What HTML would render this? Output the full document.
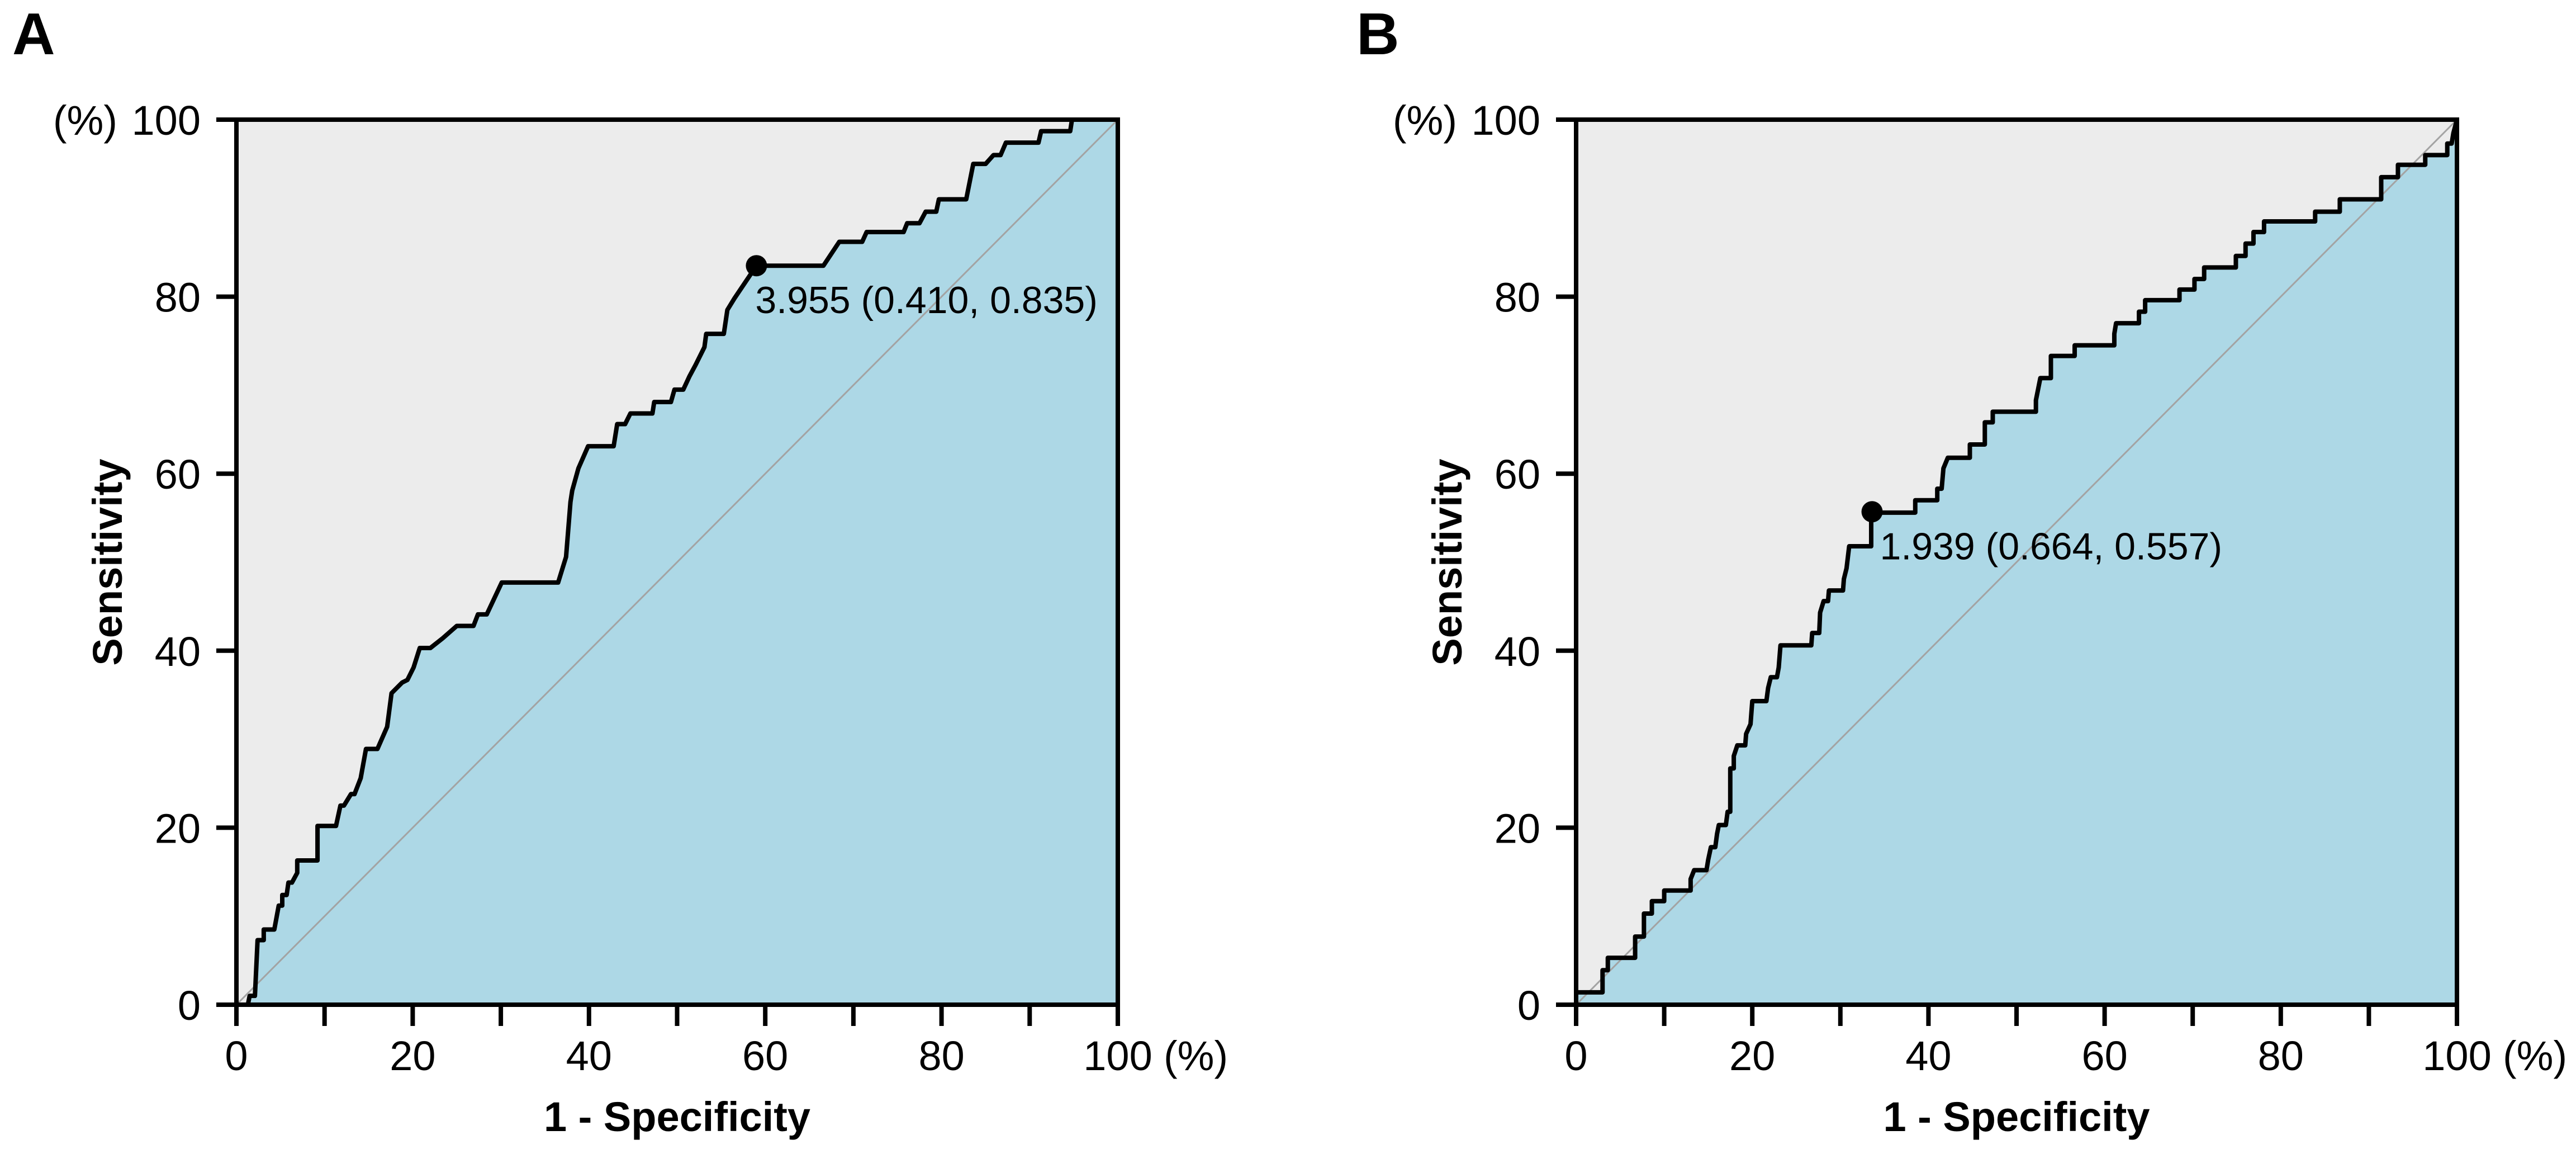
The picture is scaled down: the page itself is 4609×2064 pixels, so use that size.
<!DOCTYPE html>
<html><head><meta charset="utf-8"><style>
html,body{margin:0;padding:0;background:#fff;}
svg{display:block;font-family:"Liberation Sans",Arial,sans-serif;}
</style></head><body>
<svg id="fig" width="4609" height="2064" viewBox="0 0 4609 2064" xmlns="http://www.w3.org/2000/svg"></svg>
<script>
// Panel A ROC curve: false positive rate (%) and sensitivity (%)
const aFpr = [1.3,1.5,2.1,2.4,3.1,3.1,4.3,4.8,5.2,5.2,5.7,5.9,6.3,6.9,6.9,9.2,9.2,11.3,11.8,12.2,13.0,13.4,14.1,14.7,16.0,17.1,17.6,18.8,19.4,20.1,20.8,22.0,23.4,25.0,26.9,27.4,28.4,30.1,36.5,37.4,37.9,38.1,38.8,39.9,42.8,43.2,44.1,44.7,47.2,47.4,49.3,49.7,50.7,51.4,52.1,53.1,53.3,55.3,55.7,56.5,59.0,66.6,68.4,71.0,71.5,75.7,76.1,77.5,78.2,79.4,79.7,82.8,83.6,85.0,85.9,86.7,87.3,91.0,91.3,94.6,94.8,100];
const aTpr = [0,1.0,1.0,7.3,7.3,8.5,8.5,11.2,11.2,12.4,12.4,13.8,13.8,14.9,16.3,16.3,20.2,20.2,22.5,22.5,23.8,23.8,25.6,28.9,28.9,31.4,35.2,36.4,36.7,38.1,40.3,40.3,41.4,42.8,42.8,44.1,44.1,47.7,47.7,50.6,56.8,58.1,60.6,63.1,63.1,65.6,65.6,66.8,66.8,68.1,68.1,69.5,69.5,71.0,72.3,74.3,75.8,75.8,78.5,79.8,83.5,83.5,86.2,86.2,87.3,87.3,88.3,88.3,89.6,89.6,91.0,91.0,95.0,95.0,96.0,96.0,97.4,97.4,98.7,98.7,100,100];
const aCut = [59.0, 83.5];
const aLabel = "3.955 (0.410, 0.835)";
// Panel B ROC curve
const bFpr = [0,3.0,3.0,3.6,3.6,6.7,6.7,7.7,7.7,8.6,8.6,10.0,10.0,13.0,13.0,13.4,14.8,15.0,15.3,15.8,16.0,16.2,17.0,17.2,17.5,17.5,17.9,17.9,18.3,19.2,19.3,19.8,20.0,21.6,21.8,22.1,22.8,23.0,23.2,26.7,26.8,27.6,27.7,28.1,28.6,28.7,30.3,30.4,30.7,31.0,33.5,33.5,38.5,38.5,41.0,41.0,41.5,41.7,42.2,44.7,44.7,46.4,46.4,47.3,47.3,52.2,52.2,52.7,53.9,53.9,56.6,56.6,61.1,61.1,61.3,63.9,63.9,64.6,64.6,68.5,68.5,70.2,70.2,71.3,71.3,74.9,74.9,76.0,76.0,76.9,76.9,78.1,78.1,83.9,83.9,86.7,86.7,91.4,91.4,93.3,93.3,96.4,96.4,98.9,98.9,99.4,99.6,100];
const bTpr = [1.4,1.4,3.9,3.9,5.3,5.3,7.7,7.7,10.3,10.3,11.7,11.7,12.9,12.9,14.2,15.2,15.2,16.4,17.8,17.8,19.3,20.3,20.3,21.8,21.8,26.7,26.7,28.1,29.3,29.3,30.6,31.7,34.3,34.3,35.8,37.0,37.0,38.1,40.6,40.6,42.0,42.0,44.3,45.6,45.6,46.8,46.8,48.1,49.3,51.8,51.8,55.6,55.6,57.0,57.0,58.3,58.3,60.6,61.8,61.8,63.3,63.3,65.8,65.8,67.0,67.0,68.3,70.8,70.8,73.3,73.3,74.5,74.5,75.8,77.0,77.0,78.3,78.3,79.6,79.6,80.8,80.8,82.0,82.0,83.3,83.3,84.6,84.6,86.0,86.0,87.3,87.3,88.5,88.5,89.6,89.6,91.0,91.0,93.5,93.5,94.9,94.9,96.0,96.0,97.3,97.3,98.5,100];
const bCut = [33.6, 55.7];
const bLabel = "1.939 (0.664, 0.557)";
const xTicks = [0,10,20,30,40,50,60,70,80,90,100];
const xTickLabels = ["0","","20","","40","","60","","80","","100"];
const yTicks = [0,20,40,60,80,100];

const NS = "http://www.w3.org/2000/svg";
const svg = document.getElementById('fig');
function mk(tag, attrs, parent){
  const e = document.createElementNS(NS, tag);
  for (const k in attrs) e.setAttribute(k, attrs[k]);
  (parent||svg).appendChild(e);
  return e;
}
function panel(id, x0, x1, fpr, tpr, cut, label, letter, letterX, lblDx, lblDy){
  const y0 = 1797, y1 = 214;
  const sx = v => x0 + (x1 - x0) * v / 100;
  const sy = v => y0 - (y0 - y1) * v / 100;
  const g = mk('g', {});
  
  
  const bg = mk('rect', {x:x0, y:y1, width:x1-x0, height:y0-y1, fill:'#ececec'}, g);
  
  
  let pts = fpr.map((f,i)=>sx(f)+','+sy(tpr[i]));
  const area = mk('polygon', {points: pts.join(' ') + ' ' + sx(100)+','+sy(0) + ' ' + sx(fpr[0])+','+sy(0), fill:'#add8e6'}, g);
  
  
  const diag = mk('line', {x1:sx(0), y1:sy(0), x2:sx(100), y2:sy(100), stroke:'#a3a3a3', 'stroke-width':3}, g);
  
  
  const curve = mk('polyline', {points: pts.join(' '), fill:'none', stroke:'#000', 'stroke-width':8, 'stroke-linejoin':'round'}, g);
  
  
  const frame = mk('rect', {x:x0, y:y1, width:x1-x0, height:y0-y1, fill:'none', stroke:'#000', 'stroke-width':8}, g);
  
  
  xTicks.forEach((t,i)=>{
    const tk = mk('line', {x1:sx(t), y1:y0, x2:sx(t), y2:y0+38, stroke:'#000', 'stroke-width':8}, g);
    
    
    if (xTickLabels[i]) {
      const tl = mk('text', {x:sx(t), y:1914, 'font-size':74, 'text-anchor':'middle'}, g);
      tl.textContent = xTickLabels[i];
      
      
    }
  });
  const xp = mk('text', {x:sx(100)+82, y:1914, 'font-size':74}, g);
  xp.textContent = '(%)';
  
  
  yTicks.forEach(t=>{
    const tk = mk('line', {x1:x0-36, y1:sy(t), x2:x0, y2:sy(t), stroke:'#000', 'stroke-width':8}, g);
    
    
    const tl = mk('text', {x:x0-64, y:sy(t)+27, 'font-size':74, 'text-anchor':'end'}, g);
    tl.textContent = String(t);
    
    
  });
  const yp = mk('text', {x:x0-213, y:sy(100)+27, 'font-size':74, 'text-anchor':'end'}, g);
  yp.textContent = '(%)';
  
  
  const xt = mk('text', {x:(x0+x1)/2, y:2023, 'font-size':74, 'font-weight':'bold', 'text-anchor':'middle'}, g);
  xt.textContent = '1 - Specificity';
  
  
  const yt = mk('text', {x:0, y:0, 'font-size':74, 'font-weight':'bold', 'text-anchor':'middle', transform:'translate('+(x0-205)+','+((y0+y1)/2)+') rotate(-90)'}, g);
  yt.textContent = 'Sensitivity';
  
  
  const pt = mk('circle', {cx:sx(cut[0]), cy:sy(cut[1]), r:19, fill:'#000'}, g);
  
  
  const al = mk('text', {x:sx(cut[0])+lblDx, y:sy(cut[1])+lblDy, 'font-size':68}, g);
  al.textContent = label;
  
  
  const lt = mk('text', {x:letterX, y:97, 'font-size':106, 'font-weight':'bold'}, g);
  lt.textContent = letter;
  
  
}
panel('a', 423, 2000, aFpr, aTpr, aCut, aLabel, 'A', 22, -2, 85);
panel('b', 2820, 4396, bFpr, bTpr, bCut, bLabel, 'B', 2427, 14, 85);
</script>
</body></html>
